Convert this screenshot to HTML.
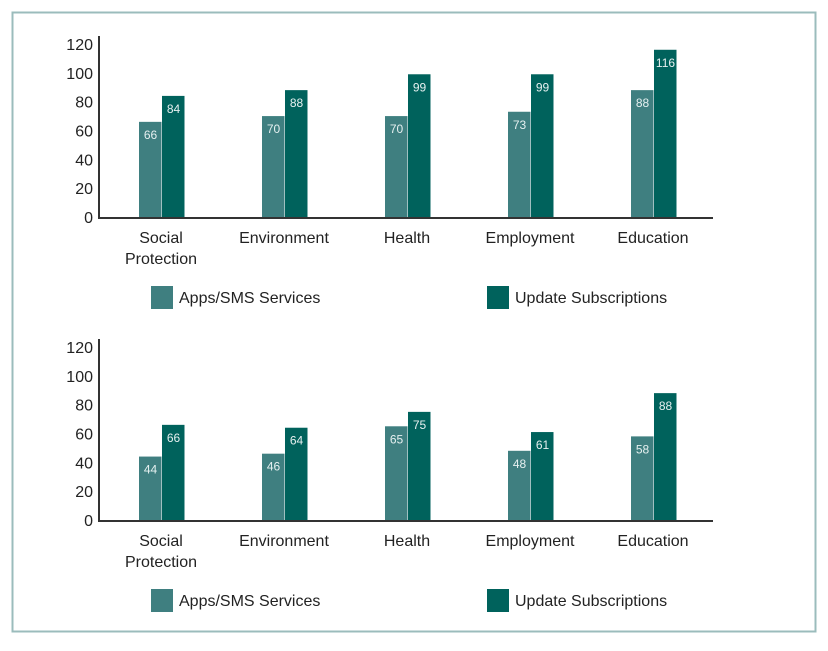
<!DOCTYPE html>
<html><head><meta charset="utf-8"><style>
body{margin:0;background:#fff;}
svg text{font-family:"Liberation Sans",sans-serif;}
</style></head><body>
<svg width="828" height="646">
<rect x="12.5" y="12.5" width="803" height="619" fill="none" stroke="#9bbcbc" stroke-width="2"/>
<g id="c1"></g>
<g id="c2"></g>
</svg>
<script>
const categories=["Social|Protection","Environment","Health","Employment","Education"];
const appsTop=[66,70,70,73,88];
const updTop=[84,88,99,99,116];
const appsBottom=[44,46,65,48,58];
const updBottom=[66,64,75,61,88];
const ticks=[0,20,40,60,80,100,120];
const NS="http://www.w3.org/2000/svg";
function mk(p,t,a){const e=document.createElementNS(NS,t);for(const k in a)e.setAttribute(k,a[k]);p.appendChild(e);return e;}
function draw(g,y0,apps,upd){
  const sc=v=>y0-v*173/120;
  const gx=i=>139+i*123;
  ticks.forEach(t=>{const e=mk(g,'text',{x:93,y:sc(t)+6,'text-anchor':'end','font-size':16,fill:'#222'});e.textContent=t;
  
  });
  const ax=mk(g,'line',{x1:99,y1:sc(120)-8,x2:99,y2:y0+1,stroke:'#333','stroke-width':2});
  
  
  const xa=mk(g,'line',{x1:98,y1:y0+1,x2:713,y2:y0+1,stroke:'#333','stroke-width':2});
  
  
  categories.forEach((c,i)=>{
    [[apps[i],'#3f7f80',0],[upd[i],'#00625c',23]].forEach(([v,col,o],j)=>{
      const r=mk(g,'rect',{x:gx(i)+o,y:sc(v),width:22.5,height:y0-sc(v),fill:col});
      
      
      const t=mk(g,'text',{x:gx(i)+o+11.5,y:sc(v)+17,'text-anchor':'middle','font-size':12,fill:'#e6f0f0'});t.textContent=v;
      
      
    });
    c.split('|').forEach((l,k)=>{const t=mk(g,'text',{x:gx(i)+22,y:y0+26+k*21,'text-anchor':'middle','font-size':16,fill:'#222'});t.textContent=l;
    
    });
  });
  [[151,'#3f7f80','Apps/SMS Services'],[487,'#00625c','Update Subscriptions']].forEach(([x,col,l])=>{
    const r=mk(g,'rect',{x:x,y:y0+69,width:22,height:23,fill:col});
    
    
    const t=mk(g,'text',{x:x+28,y:y0+86,'font-size':16,fill:'#222'});t.textContent=l;
    
    
  });
}
draw(document.getElementById('c1'),217,appsTop,updTop);
draw(document.getElementById('c2'),520,appsBottom,updBottom);
</script>
</body></html>
